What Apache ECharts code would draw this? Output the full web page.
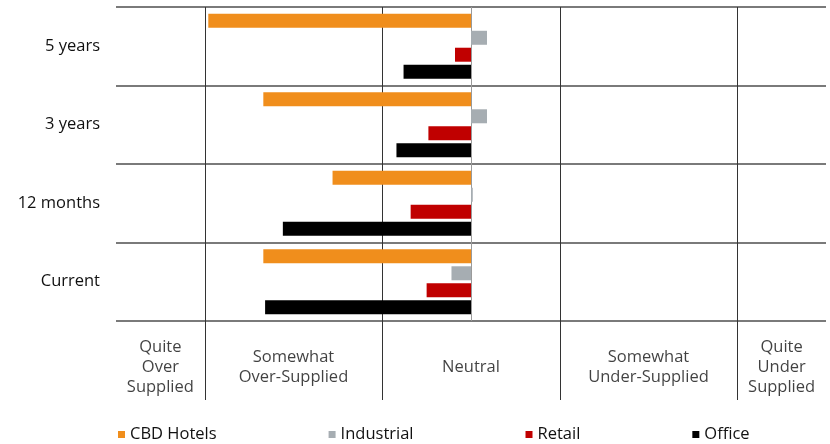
<!DOCTYPE html>
<html><head><meta charset="utf-8">
<script src="https://cdn.jsdelivr.net/npm/echarts@6/dist/echarts.min.js"></script>
<style>html,body{margin:0;padding:0;background:#fff}#c{width:830px;height:444px}</style>
</head><body><div id="c"></div>
<script>
// ---- data ----
const horizons = ['Current', '12 months', '3 years', '5 years'];
const cbdHotels = [-1.17, -0.78, -1.17, -1.48];
const industrial = [-0.11, 0.01, 0.09, 0.09];
const retail = [-0.25, -0.34, -0.24, -0.09];
const office = [-1.16, -1.06, -0.42, -0.38];
const seriesNames = ['CBD Hotels', 'Industrial', 'Retail', 'Office'];
const supplyLabels = ['Quite\nOver\nSupplied', 'Somewhat\nOver-Supplied', 'Neutral', 'Somewhat\nUnder-Supplied', 'Quite\nUnder\nSupplied'];
const zoneBounds = [-2, -1.5, -0.5, 0.5, 1.5, 2];

// ---- chart ----
const FONT = '"Open Sans", "Noto Sans", sans-serif';
const T = 'rgba(0,0,0,0)';
const V = '#333333';
const TXT = '#111111';
const colors = ['#F08E1C', '#A6ADB2', '#C00000', '#000000'];
const values = [cbdHotels, industrial, retail, office];

function xAx(gridIndex, zeroColor) {
  return {
    type: 'value', gridIndex, min: -2, max: 2, interval: 0.5,
    axisLabel: {show: false}, axisLine: {show: false}, axisTick: {show: false},
    splitLine: {show: true, lineStyle: {width: 1, color: [T, V, T, V, zeroColor, V, T, V, T]}}
  };
}

const chart = echarts.init(document.getElementById('c'), null, {renderer: 'canvas'});
const series = seriesNames.map((n, i) => ({
  name: n, type: 'bar', xAxisIndex: 0, yAxisIndex: 0,
  data: values[i], itemStyle: {color: colors[i]},
  barWidth: 14, barGap: '21%'
}));
series.push({
  type: 'scatter', xAxisIndex: 1, yAxisIndex: 1, symbolSize: 0, silent: true,
  data: supplyLabels.map((t, i) => ({name: t, value: [(zoneBounds[i] + zoneBounds[i + 1]) / 2, 0]})),
  label: {show: true, position: 'inside', formatter: '{b}', fontSize: 16.5, lineHeight: 20,
    color: TXT, fontFamily: FONT, offset: [0, 7]}
});

chart.setOption({
  animation: false,
  textStyle: {fontFamily: FONT},
  grid: [
    {left: 116, width: 710, top: 7, height: 314},
    {left: 116, width: 710, top: 321, height: 79}
  ],
  xAxis: [xAx(0, '#9a9a9a'), xAx(1, T)],
  yAxis: [
    {type: 'category', gridIndex: 0, data: horizons,
     axisLine: {show: false}, axisTick: {show: false},
     axisLabel: {fontSize: 16.5, color: TXT, margin: 16, fontFamily: FONT},
     splitLine: {show: true, interval: 0, lineStyle: {color: '#7a7a7a', width: 2}}},
    {type: 'category', gridIndex: 1, data: ['labels'],
     axisLine: {show: false}, axisTick: {show: false}, axisLabel: {show: false}, splitLine: {show: false}}
  ],
  legend: {
    data: seriesNames, left: 113, top: 421, itemGap: 112, itemWidth: 7, itemHeight: 7,
    icon: 'rect', textStyle: {fontSize: 16.5, color: TXT, fontFamily: FONT}
  },
  series
});
</script></body></html>
